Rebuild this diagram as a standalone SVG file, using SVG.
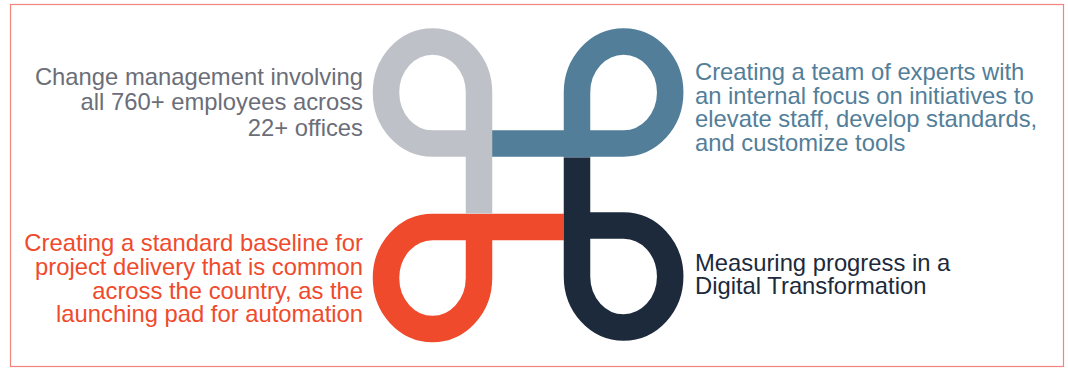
<svg xmlns="http://www.w3.org/2000/svg" width="1068" height="368" viewBox="0 0 1068 368">
  <style>
    .loop { fill: none; stroke-width: 26.5; stroke-linecap: butt; stroke-linejoin: miter; }
    .lbl { font-family: "Liberation Sans", Arial, sans-serif; font-size: 23.8px; }
    .r { text-anchor: end; }
  </style>
  <rect x="10.5" y="4.5" width="1053" height="362" fill="#ffffff" stroke="#F0857C" stroke-width="1.2"/>
  <g id="connectors">
    <path id="blue-loop" class="loop" stroke="#527E99" d="M 492 143.5 H 623.5 A 46.6 51 0 1 0 577 92.5 V 157.5"/>
    <path id="navy-loop" class="loop" stroke="#1C2A3B" d="M 577 157.5 V 276.5 A 46.6 51 0 1 0 623.5 225.5 H 564"/>
    <path id="red-loop" class="loop" stroke="#EF4A2C" d="M 564 227 H 432.5 A 46.5 51 0 1 0 479 278 V 227"/>
    <path id="gray-loop" class="loop" stroke="#BEC1C8" d="M 479 213.5 V 92.5 A 46.5 51 0 1 0 432.5 143.5 H 479"/>
  </g>
  <g id="node-change" class="lbl r" fill="#6B6E78">
    <text x="363" y="84.5">Change management involving</text>
    <text x="363" y="110">all 760+ employees across</text>
    <text x="363" y="136">22+ offices</text>
  </g>
  <g id="node-experts" class="lbl" fill="#527E99">
    <text x="695" y="80">Creating a team of experts with</text>
    <text x="695" y="103.5">an internal focus on initiatives to</text>
    <text x="695" y="127">elevate staff, develop standards,</text>
    <text x="695" y="150.5">and customize tools</text>
  </g>
  <g id="node-baseline" class="lbl r" fill="#EF4A2C">
    <text x="363" y="251">Creating a standard baseline for</text>
    <text x="363" y="275">project delivery that is common</text>
    <text x="363" y="298.5">across the country, as the</text>
    <text x="363" y="322">launching pad for automation</text>
  </g>
  <g id="node-measuring" class="lbl" fill="#1C2A3B">
    <text x="695" y="270.5">Measuring progress in a</text>
    <text x="695" y="294">Digital Transformation</text>
  </g>
</svg>
